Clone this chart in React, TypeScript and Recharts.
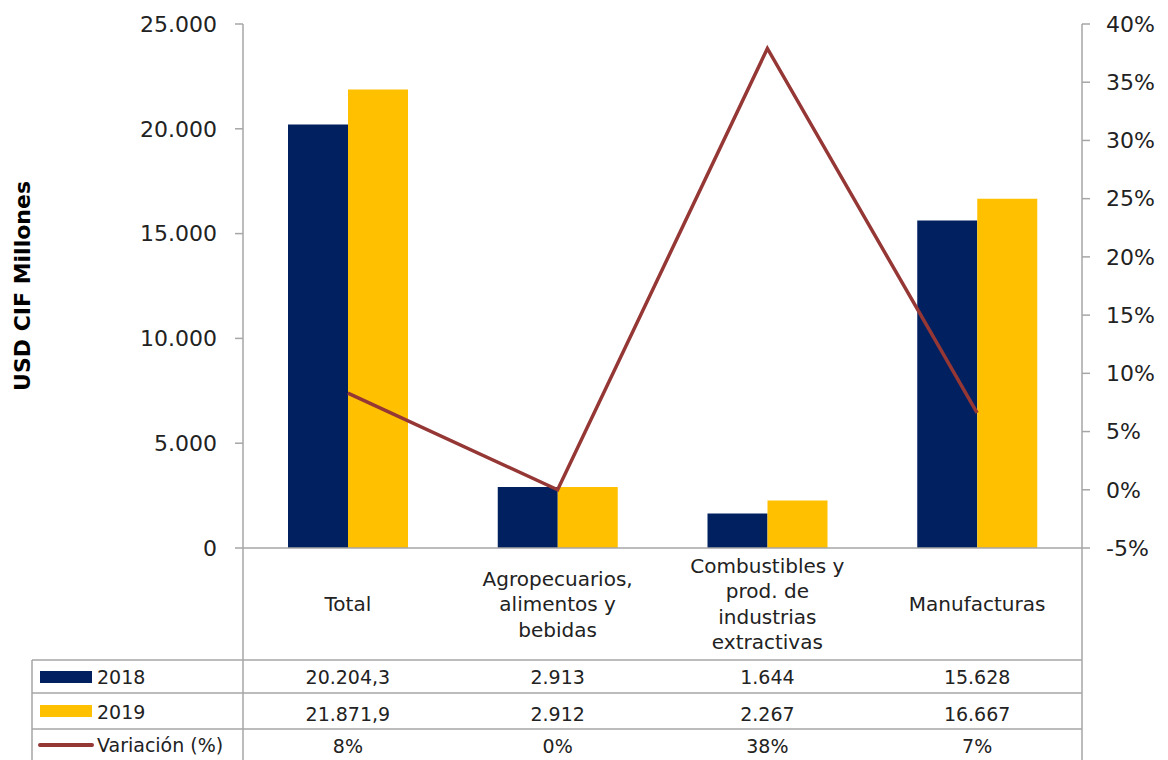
import { Bar, ComposedChart, Line, XAxis, YAxis } from "recharts";

const categories = ["Total", "Agropecuarios", "Combustibles", "Manufacturas"];
const categoryLines = [
  ["Total"],
  ["Agropecuarios,", "alimentos y", "bebidas"],
  ["Combustibles y", "prod. de", "industrias", "extractivas"],
  ["Manufacturas"],
];
const values2018 = [20204.3, 2913, 1644, 15628];
const values2019 = [21871.9, 2912, 2267, 16667];
const variation = [8.3, 0.0, 37.9, 6.6];
const leftTicks = [0, 5000, 10000, 15000, 20000, 25000];
const rightTicks = [-5, 0, 5, 10, 15, 20, 25, 30, 35, 40];

const NAVY = "#002060";
const GOLD = "#FFC000";
const RED = "#953735";
const GRID = "#A6A6A6";
const INK = "#222222";
const FONT = "'DejaVu Sans', sans-serif";

const fmtNum = (v: number) => {
  const [int, dec] = String(v).split(".");
  return int.replace(/\B(?=(\d{3})+(?!\d))/g, ".") + (dec ? "," + dec : "");
};

const data = categories.map((c, i) => ({
  cat: c,
  y2018: values2018[i],
  y2019: values2019[i],
  variacion: variation[i],
}));

// category label plus the three table values under it
function CategoryTick(props: any) {
  const { x, y, payload } = props;
  const i = categories.indexOf(payload.value);
  const lines = categoryLines[i];
  const lh = 25.5;
  const top = y + 56 - ((lines.length - 1) * lh) / 2;
  const txt = { textAnchor: "middle" as const, dominantBaseline: "central" as const, fill: INK, fontFamily: FONT };
  return (
    <g>
      {lines.map((t, k) => (
        <text key={k} x={x} y={top + k * lh} fontSize={20} {...txt}>
          {t}
        </text>
      ))}
      <text x={x} y={y + 129} fontSize={19} {...txt}>{fmtNum(values2018[i])}</text>
      <text x={x} y={y + 166} fontSize={19} {...txt}>{fmtNum(values2019[i])}</text>
      <text x={x} y={y + 198} fontSize={19} {...txt}>{Math.round(variation[i]) + "%"}</text>
    </g>
  );
}

function TableFrame() {
  const label = { fontSize: 19, fill: INK, fontFamily: FONT, dominantBaseline: "central" as const };
  return (
    <svg width={1168} height={760} style={{ position: "absolute", left: 0, top: 0, pointerEvents: "none" }}>
      <g stroke={GRID} strokeWidth={1.5}>
        <line x1={32} y1={660} x2={1082} y2={660} />
        <line x1={32} y1={693} x2={1082} y2={693} />
        <line x1={32} y1={729} x2={1082} y2={729} />
        <line x1={32} y1={660} x2={32} y2={760} />
        <line x1={243} y1={548} x2={243} y2={760} />
        <line x1={1082} y1={548} x2={1082} y2={760} />
      </g>
      <rect x={40} y={671} width={52} height={12} fill={NAVY} />
      <text x={97} y={677} {...label}>2018</text>
      <rect x={40} y={705} width={52} height={12} fill={GOLD} />
      <text x={97} y={712} {...label}>2019</text>
      <line x1={40} y1={745} x2={92} y2={745} stroke={RED} strokeWidth={4} strokeLinecap="round" />
      <text x={97} y={745} {...label}>Variación (%)</text>
    </svg>
  );
}

export default function App() {
  return (
    <div style={{ position: "absolute", left: 0, top: 0, width: 1168, height: 760, background: "#fff" }}>
      <ComposedChart
        width={1168}
        height={760}
        data={data}
        margin={{ top: 24, right: 0, bottom: 0, left: 0 }}
        barGap={0}
        barSize={60}
      >
        <XAxis
          dataKey="cat"
          height={212}
          tickLine={false}
          tickSize={0}
          tickMargin={0}
          interval={0}
          axisLine={{ stroke: GRID, strokeWidth: 1.5 }}
          tick={<CategoryTick />}
        />
        <YAxis
          yAxisId="left"
          width={243}
          domain={[0, 25000]}
          ticks={leftTicks}
          tickFormatter={fmtNum}
          tickSize={8}
          tickMargin={18}
          axisLine={{ stroke: GRID, strokeWidth: 1.5 }}
          tickLine={{ stroke: GRID, strokeWidth: 1.5 }}
          tick={{ fill: INK, fontSize: 22, fontFamily: FONT }}
          label={{
            value: "USD CIF Millones",
            content: ({ viewBox }: any) => (
              <text
                x={22}
                y={viewBox.y + viewBox.height / 2}
                transform={`rotate(-90, 22, ${viewBox.y + viewBox.height / 2})`}
                textAnchor="middle"
                dominantBaseline="central"
                fontSize={22}
                fontWeight="bold"
                fill="#000"
                fontFamily={FONT}
              >
                USD CIF Millones
              </text>
            ),
          }}
        />
        <YAxis
          yAxisId="right"
          orientation="right"
          width={86}
          domain={[-5, 40]}
          ticks={rightTicks}
          tickFormatter={(v: number) => v + "%"}
          tickSize={8}
          tickMargin={16}
          axisLine={{ stroke: GRID, strokeWidth: 1.5 }}
          tickLine={{ stroke: GRID, strokeWidth: 1.5 }}
          tick={{ fill: INK, fontSize: 22, fontFamily: FONT, textAnchor: "start" }}
        />
        <Bar yAxisId="left" dataKey="y2018" name="2018" fill={NAVY} isAnimationActive={false} />
        <Bar yAxisId="left" dataKey="y2019" name="2019" fill={GOLD} isAnimationActive={false} />
        <Line
          yAxisId="right"
          type="linear"
          dataKey="variacion"
          name="Variación (%)"
          stroke={RED}
          strokeWidth={3.5}
          dot={false}
          isAnimationActive={false}
        />
      </ComposedChart>
      <TableFrame />
    </div>
  );
}
